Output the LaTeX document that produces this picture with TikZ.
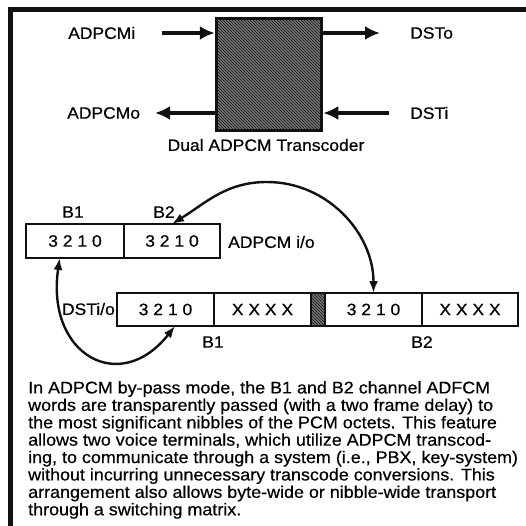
\documentclass[tikz,border=0pt]{standalone}
\usepackage{fontspec}
\setmainfont[FakeStretch=1.06,FakeBold=0.5]{Liberation Sans}
\usepackage{tikz}
\usetikzlibrary{arrows.meta,patterns}
\definecolor{ink}{HTML}{111111}
\definecolor{raster}{HTML}{767676}
\tikzset{
  sig/.style={-{Latex[length=15pt,width=14pt]},ink,line width=3.4pt},
  link/.style={{Latex[length=12pt,width=9pt]}-{Latex[length=12pt,width=9pt]},ink,line width=2.4pt},
  cell/.style={draw=ink,line width=2.4pt,inner sep=0pt,outer sep=0pt,font=\fontsize{16.5}{18}\selectfont},
  lbl/.style={inner sep=0pt,font=\fontsize{16.5}{18}\selectfont},
  hatch/.style={preaction={fill=raster},pattern=north west lines,pattern color=ink},
}

\begin{document}
\begin{tikzpicture}[x=1pt,y=1pt]
  \useasboundingbox (0,0) rectangle (526,-526);
  % Rahmen (nur oben und links)
  \draw[ink,line width=5pt] (10,-526) -- (10,-9.5) -- (526,-9.5);
  % Transcoder
  \node[draw=ink,line width=3.5pt,minimum width=105pt,minimum height=112pt,hatch] (tc) at (269,-74.5) {};
  \node[lbl] (tcname) at (266,-145) {Dual ADPCM Transcoder};
  \node[lbl,anchor=west] (adpcmi) at (68,-33) {ADPCMi};
  \node[lbl,anchor=west] (adpcmo) at (67,-113) {ADPCMo};
  \node[lbl,anchor=west] (dsto) at (410,-33) {DSTo};
  \node[lbl,anchor=west] (dsti) at (410,-113) {DSTi};
  \coordinate (ai) at (162,-33);
  \coordinate (ao) at (155,-113);
  \coordinate (so) at (380,-33);
  \coordinate (si) at (389,-113);
  \draw[sig] (ai) -- (ai -| tc.west);
  \draw[sig] (tc.west |- ao) -- (ao);
  \draw[sig] (tc.east |- so) -- (so);
  \draw[sig] (si) -- (si -| tc.east);
  % ADPCM i/o
  \node[cell,minimum width=98pt,minimum height=34pt] (a1) at (75,-241) {3 2 1 0};
  \node[cell,minimum width=96pt,minimum height=34pt] (a2) at (172,-241) {3 2 1 0};
  \node[lbl] (ab1) at (73,-212) {B1};
  \node[lbl] (ab2) at (164,-212) {B2};
  \node[lbl,anchor=west] (aio) at (228,-242) {ADPCM i/o};
  % DSTi/o
  \node[cell,minimum width=97pt,minimum height=33pt] (d1) at (165.5,-309.5) {3 2 1 0};
  \node[cell,minimum width=97pt,minimum height=33pt] (x1) at (262.5,-309.5) {X X X X};
  \node[cell,minimum width=14pt,minimum height=33pt,hatch] (dh) at (318,-309.5) {};
  \node[cell,minimum width=97pt,minimum height=33pt] (d2) at (373.5,-309.5) {3 2 1 0};
  \node[cell,minimum width=96pt,minimum height=33pt] (x2) at (470,-309.5) {X X X X};
  \node[lbl,anchor=east] (dio) at (115,-309) {DSTi/o};
  \node[lbl] (db1) at (213,-342) {B1};
  \node[lbl] (db2) at (422,-342) {B2};
  % Boegen
  \coordinate (kuppe) at (267,-182);
  \draw[link] (a2.north) to[out=32,in=180] (kuppe) to[out=0,in=90] (d2.north);
  \draw[link] (a1.-132) .. controls +(-14,-97) and +(-55,-70) .. (d1.-60);
  % Text
  \node[lbl,anchor=north west,align=left,font=\fontsize{16.9}{17.4}\selectfont] (txt) at (28,-381) {%
    In ADPCM by-pass mode, the B1 and B2 channel ADFCM\\
    words are transparently passed (with a two frame delay) to\\
    the most significant nibbles of the PCM octets. This feature\\
    allows two voice terminals, which utilize ADPCM transcod-\\
    ing, to communicate through a system (i.e., PBX, key-system)\\
    without incurring unnecessary transcode conversions. This\\
    arrangement also allows byte-wide or nibble-wide transport\\
    through a switching matrix.};
\end{tikzpicture}
\end{document}
